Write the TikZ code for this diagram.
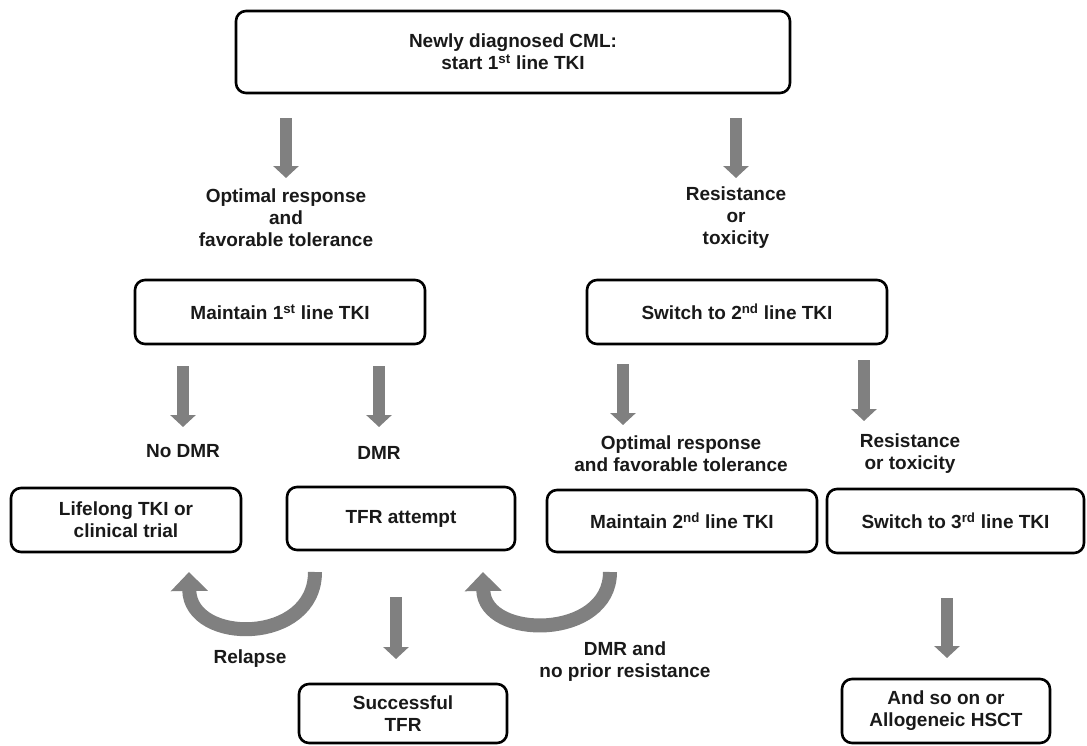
\documentclass[tikz,border=0pt]{standalone}
\usepackage{fontspec}
\setmainfont{Liberation Sans}
\usetikzlibrary{arrows.meta}
\definecolor{arrgray}{RGB}{128,128,128}
\definecolor{txt}{RGB}{25,25,25}
\begin{document}
\begin{tikzpicture}[x=1pt,y=-1pt,
  box/.style={draw=black, line width=2.6pt, rounded corners=10pt, align=center,
    font=\fontsize{19}{22}\selectfont\bfseries, text=txt, inner sep=0pt},
  lbl/.style={align=center, font=\fontsize{19}{22}\selectfont\bfseries, text=txt, inner sep=0pt},
  blk/.style={draw=arrgray, line width=12pt, -{Triangle[width=25pt,length=12pt]}},
  curv/.style={draw=arrgray, line width=14pt, -{Triangle[width=36pt,length=19pt]}}]
\useasboundingbox (0,0) rectangle (1087,745);

% boxes
\node[box, minimum width=554pt, minimum height=82pt] (top) at (513,52) {Newly diagnosed CML:\\start 1\textsuperscript{st} line TKI};
\node[box, minimum width=290pt, minimum height=64pt] (m1) at (280,312) {Maintain 1\textsuperscript{st} line TKI};
\node[box, minimum width=300pt, minimum height=64pt] (s2) at (737,312) {Switch to 2\textsuperscript{nd} line TKI};
\node[box, minimum width=230pt, minimum height=64pt] (life) at (126,520) {Lifelong TKI or\\clinical trial};
\node[box, minimum width=228pt, minimum height=63pt] (tfr) at (401,518.5) {TFR attempt};
\node[box, minimum width=270pt, minimum height=62pt] (m2) at (682,521) {Maintain 2\textsuperscript{nd} line TKI};
\node[box, minimum width=257pt, minimum height=64pt] (s3) at (955.5,521) {Switch to 3\textsuperscript{rd} line TKI};
\node[box, minimum width=208pt, minimum height=59pt] (succ) at (403,713.5) {Successful\\TFR};
\node[box, minimum width=208pt, minimum height=64pt] (hsct) at (946,711) {And so on or\\Allogeneic HSCT};

% labels
\node[lbl] (opt1) at (286,218) {Optimal response\\and\\favorable tolerance};
\node[lbl] (res1) at (736,218) {Resistance\\or\\toxicity};
\node[lbl] (nodmr) at (183,451) {No DMR};
\node[lbl] (dmr) at (379,453) {DMR};
\node[lbl] (opt2) at (681,454) {Optimal response\\and favorable tolerance};
\node[lbl] (res2) at (910,454) {Resistance\\or toxicity};
\node[lbl] (relapse) at (250,659) {Relapse};
\node[lbl] (dmrnp) at (625,662) {DMR and\\no prior resistance};

% straight block arrows
\coordinate (a1s) at (286,118); \coordinate (a1e) at (286,178);
\coordinate (a2s) at (736,118); \coordinate (a2e) at (736,178);
\coordinate (a3s) at (183,366); \coordinate (a3e) at (183,427);
\coordinate (a4s) at (379,366); \coordinate (a4e) at (379,427);
\coordinate (a5s) at (623,364); \coordinate (a5e) at (623,425);
\coordinate (a6s) at (864,360); \coordinate (a6e) at (864,421);
\coordinate (a7s) at (396,597); \coordinate (a7e) at (396,659);
\coordinate (a8s) at (947,598); \coordinate (a8e) at (947,658);
\foreach \i in {1,...,8} \draw[blk] (a\i s) -- (a\i e);

% curved arrows
\coordinate (r1s) at (315,572); \coordinate (r1e) at (189,572);
\draw[curv] (r1s) .. controls (315,645) and (190,645) .. (r1e);
\coordinate (r2s) at (610,572); \coordinate (r2e) at (483,572);
\draw[curv] (r2s) .. controls (610,640) and (484,640) .. (r2e);
\end{tikzpicture}
\end{document}
